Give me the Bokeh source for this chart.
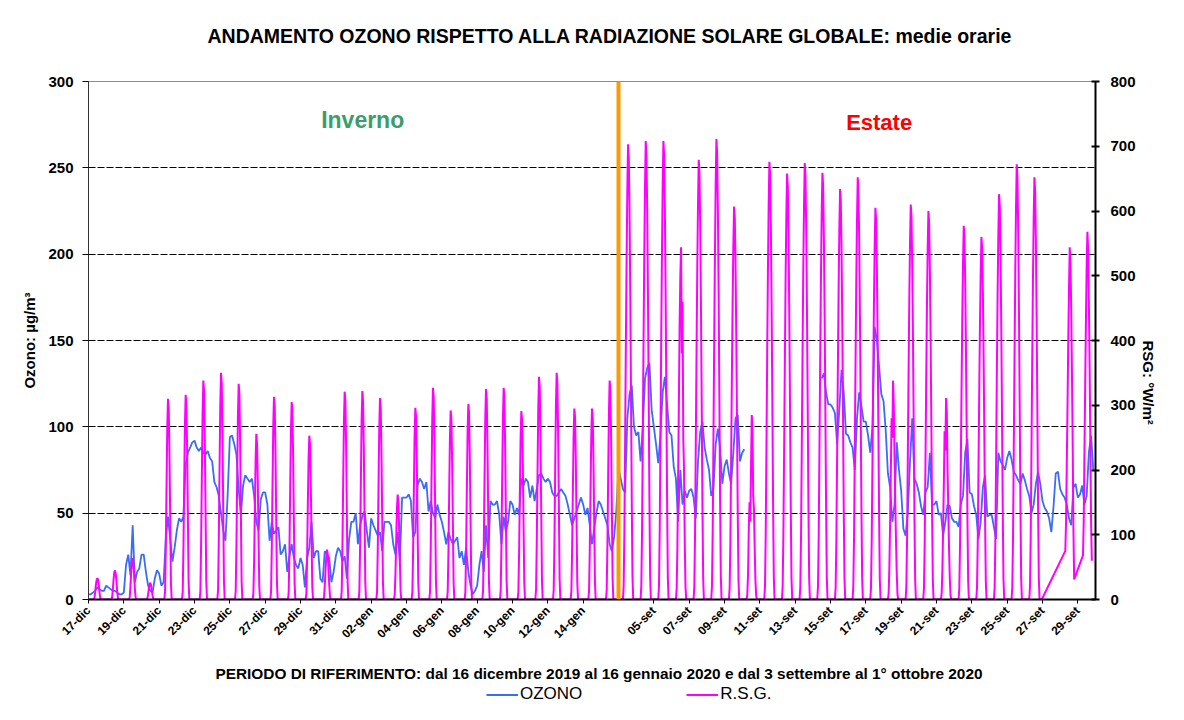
import math
import numpy as np
import pandas as pd
from bokeh.plotting import figure
from bokeh.layouts import column
from bokeh.models import (Range1d, LinearAxis, FixedTicker, Label, Span, Legend,
                          LegendItem, Title)
from bokeh.embed import file_html
from bokeh.resources import INLINE

FONT = "Liberation Sans"

TITLE = "ANDAMENTO OZONO RISPETTO ALLA RADIAZIONE SOLARE GLOBALE: medie orarie"
SUBTITLE = ("PERIODO DI RIFERIMENTO: dal 16 dicembre 2019 al 16 gennaio 2020 "
            "e dal 3 settembre al 1° ottobre 2020")
Y_LEFT_TITLE = "Ozono: µg/m³"
Y_RIGHT_TITLE = "RSG: °W/m²"
SERIES = ["OZONO", "R.S.G."]
SEASONS = ["Inverno", "Estate"]

WINTER_START = "2019-12-17"
WINTER_DAYS = 30
SUMMER_START = "2020-09-03"
SUMMER_DAYS = 27
MONTHS = {12: "dic", 1: "gen", 9: "set"}

TICK_LABELS = ["17-dic", "19-dic", "21-dic", "23-dic", "25-dic", "27-dic", "29-dic",
               "31-dic", "02-gen", "04-gen", "06-gen", "08-gen", "10-gen", "12-gen",
               "14-gen", "05-set", "07-set", "09-set", "11-set", "13-set", "15-set",
               "17-set", "19-set", "21-set", "23-set", "25-set", "27-set", "29-set"]

LEFT_TICKS = [0, 50, 100, 150, 200, 250, 300]
RIGHT_TICKS = [0, 100, 200, 300, 400, 500, 600, 700, 800]

# Ozone (ug/m3), one reading every 3 hours (00,03,...,21 h)
OZONE_STEP_H = 3
OZONE_WINTER = [
    3, 3, 4, 5, 7, 6, 5, 5,
    8, 7, 6, 5, 5, 4, 3, 3,
    4, 20, 26, 14, 43, 10, 16, 18,
    26, 26, 16, 8, 5, 4, 12, 17,
    15, 8, 10, 35, 48, 35, 22, 30,
    40, 47, 45, 48, 78, 85, 88, 91,
    92, 88, 86, 88, 85, 84, 86, 82,
    80, 68, 65, 60, 50, 40, 34, 60,
    94, 95, 90, 84, 64, 49, 66, 72,
    70, 68, 70, 60, 45, 40, 58, 62,
    62, 55, 34, 45, 38, 40, 42, 26,
    28, 32, 16, 25, 32, 24, 20, 18,
    24, 20, 7, 24, 30, 45, 24, 28,
    28, 12, 10, 28, 26, 24, 10, 16,
    25, 30, 28, 22, 25, 12, 35, 45,
    45, 50, 32, 43, 48, 51, 40, 30,
    47, 43, 40, 37, 39, 28, 45, 45,
    45, 43, 32, 26, 39, 22, 59, 59,
    59, 61, 57, 36, 39, 66, 70, 68,
    64, 68, 51, 57, 50, 47, 55, 49,
    45, 39, 32, 39, 35, 32, 34, 36,
    24, 28, 20, 30, 16, 8, 3, 5,
    8, 20, 28, 16, 43, 24, 57, 55,
    55, 57, 49, 32, 48, 39, 45, 57,
    55, 49, 53, 49, 70, 66, 70, 68,
    59, 66, 57, 64, 72, 73, 70, 68,
    70, 68, 62, 60, 60, 62, 64, 62,
    60, 55, 49, 43, 47, 51, 55, 59,
    55, 49, 53, 43, 32, 41, 50, 57,
    55, 51, 47, 43, 32, 28, 36, 51,
]
OZONE_SUMMER = [
    76, 70, 64, 62, 105, 119, 124, 100,
    95, 97, 80, 100, 128, 134, 137, 110,
    100, 90, 79, 95, 120, 129, 113, 97,
    95, 77, 70, 45, 75, 55, 63, 59,
    63, 64, 59, 47, 80, 97, 103, 88,
    81, 75, 60, 64, 90, 99, 88, 67,
    77, 81, 73, 67, 85, 105, 107, 80,
    85, 87, None, None, None, None, None, None,
    None, None, None, None, None, None, None, None,
    None, None, None, None, None, None, None, None,
    None, None, None, None, None, None, None, None,
    None, None, None, None, 128, 131, 120, 113,
    113, 111, 108, 90, 110, 133, 120, 96,
    95, 91, 88, 75, 105, 120, 112, 103,
    103, 95, 85, 100, 158, 150, 135, 119,
    115, 98, 73, 65, 45, 55, 91, 75,
    63, 41, 37, 50, 80, 105, 70, 67,
    62, 54, 49, 62, 65, 85, 55, 55,
    57, 49, 50, 37, 45, 55, 54, 47,
    45, 45, 42, 55, 60, 85, 93, 62,
    61, 54, 49, 35, 45, 65, 72, 48,
    49, 49, 42, 35, 85, 80, 78, 75,
    82, 86, 81, 74, 72, 69, 67, 73,
    69, 64, 60, 50, 55, 67, 74, 67,
    57, 53, 51, 47, 39, 54, 73, 74,
    64, 61, 59, 55, 47, 43, 65, 67,
    59, 61, 66, 55, 60, 85, 95, 75,
]

# Global solar radiation (W/m2): daylight hours only, night hours are 0
RSG_WINTER_HOURS = list(range(8, 17))
RSG_WINTER = [
    2, 10, 22, 30, 33, 31, 22, 10, 2,
    3, 14, 30, 42, 45, 40, 28, 12, 2,
    4, 20, 42, 60, 64, 55, 38, 16, 3,
    2, 8, 17, 24, 26, 22, 15, 6, 1,
    12, 80, 175, 265, 310, 295, 225, 125, 25,
    12, 82, 180, 270, 316, 300, 230, 128, 26,
    13, 88, 192, 288, 338, 322, 246, 136, 28,
    14, 90, 198, 298, 350, 334, 255, 140, 29,
    13, 86, 188, 284, 333, 318, 242, 134, 27,
    10, 60, 140, 215, 256, 240, 180, 95, 20,
    12, 80, 178, 268, 313, 298, 228, 126, 26,
    12, 78, 172, 260, 305, 292, 222, 122, 25,
    10, 65, 150, 220, 253, 238, 175, 98, 20,
    4, 22, 45, 66, 77, 70, 50, 24, 5,
    13, 84, 182, 275, 321, 306, 234, 130, 27,
    13, 84, 183, 276, 322, 306, 235, 130, 27,
    12, 80, 176, 266, 311, 296, 226, 126, 26,
    8, 40, 90, 140, 162, 150, 110, 60, 12,
    12, 76, 168, 253, 296, 282, 216, 120, 25,
    13, 85, 186, 280, 327, 311, 238, 132, 28,
    12, 75, 165, 250, 292, 278, 213, 118, 25,
    12, 78, 171, 258, 302, 288, 220, 122, 26,
    13, 84, 184, 278, 325, 310, 237, 132, 28,
    14, 85, 186, 280, 327, 312, 238, 133, 29,
    12, 75, 165, 249, 291, 277, 212, 118, 25,
    15, 90, 196, 295, 344, 328, 251, 140, 31,
    15, 92, 200, 300, 350, 334, 255, 143, 32,
    13, 77, 168, 252, 295, 281, 215, 120, 27,
    13, 77, 168, 252, 295, 281, 215, 120, 27,
    15, 88, 193, 290, 338, 322, 247, 138, 32,
]
RSG_SUMMER_HOURS = list(range(7, 20))
RSG_SUMMER = [
    20, 105, 245, 395, 525, 635, 703, 680, 600, 470, 315, 155, 35,
    21, 106, 248, 396, 530, 637, 708, 686, 602, 474, 318, 156, 35,
    21, 106, 248, 396, 530, 637, 708, 686, 602, 474, 318, 156, 35,
    16, 80, 190, 300, 420, 500, 544, 380, 460, 250, 200, 90, 20,
    20, 102, 238, 380, 509, 611, 679, 659, 577, 455, 306, 149, 34,
    21, 107, 249, 398, 533, 640, 711, 690, 604, 476, 320, 156, 36,
    18, 91, 212, 340, 455, 546, 607, 589, 516, 407, 273, 134, 30,
    8, 40, 110, 150, 120, 200, 285, 270, 160, 140, 80, 30, 6,
    20, 101, 237, 379, 507, 608, 676, 656, 575, 453, 304, 149, 34,
    20, 99, 230, 368, 494, 592, 658, 638, 559, 441, 296, 145, 33,
    20, 101, 236, 377, 505, 607, 674, 654, 573, 452, 303, 148, 34,
    20, 99, 231, 369, 494, 593, 659, 639, 560, 442, 297, 145, 33,
    19, 95, 222, 355, 476, 571, 634, 615, 539, 425, 285, 139, 32,
    20, 98, 228, 365, 489, 587, 652, 632, 554, 437, 293, 143, 33,
    18, 91, 212, 339, 454, 545, 605, 587, 514, 405, 272, 133, 30,
    10, 50, 120, 200, 280, 250, 338, 300, 220, 150, 90, 40, 8,
    18, 92, 214, 342, 458, 549, 610, 592, 519, 409, 275, 134, 31,
    18, 90, 210, 336, 450, 540, 600, 582, 510, 402, 270, 132, 30,
    9, 45, 110, 180, 260, 230, 311, 290, 200, 140, 80, 35, 7,
    17, 87, 202, 323, 433, 519, 577, 560, 490, 387, 260, 127, 29,
    17, 84, 196, 314, 420, 504, 560, 543, 476, 375, 252, 123, 28,
    19, 94, 219, 351, 470, 563, 626, 607, 532, 419, 282, 138, 31,
    20, 101, 235, 376, 504, 605, 672, 652, 571, 450, 302, 148, 34,
    20, 98, 228, 365, 489, 587, 652, 632, 554, 437, 293, 143, 33,
    None, None, None, None, None, None, None, None, None, None, None, None, None,
    75, 120, 210, 300, 400, 480, 544, 520, 450, 350, 240, 110, 31,
    68, 120, 230, 330, 430, 515, 568, 540, 460, 360, 240, 120, 60,
]
# from this summer day on, the night-time radiation values were not recorded
RSG_SUMMER_NIGHTS_MISSING_FROM = 24

# ---------------------------------------------------------------- series build
N_WIN = WINTER_DAYS * 24
N_SUM = SUMMER_DAYS * 24
N_HOURS = N_WIN + N_SUM

dates = list(pd.date_range(WINTER_START, periods=WINTER_DAYS, freq="D")) + \
        list(pd.date_range(SUMMER_START, periods=SUMMER_DAYS, freq="D"))
date_names = [f"{d.day:02d}-{MONTHS[d.month]}" for d in dates]
tick_pos = [date_names.index(lbl) * 24 for lbl in TICK_LABELS]


def ozone_xy(values, offset):
    x = offset + np.arange(len(values)) * OZONE_STEP_H
    y = np.array([np.nan if v is None else v for v in values], dtype=float)
    return x, y


def rsg_xy(values, hours, n_days, offset, nights_missing_from=None):
    """hourly points; missing readings are skipped so the line joins across them"""
    per_day = len(hours)
    xs, ys = [], []
    for d in range(n_days):
        day_vals = values[d * per_day:(d + 1) * per_day]
        for h in range(24):
            if h in hours:
                v = day_vals[h - hours[0]]
            elif nights_missing_from is not None and d >= nights_missing_from:
                v = None
            else:
                v = 0
            if v is None:
                continue
            xs.append(offset + d * 24 + h)
            ys.append(v)
    return xs, ys


ozx_w, ozy_w = ozone_xy(OZONE_WINTER, 0)
ozx_s, ozy_s = ozone_xy(OZONE_SUMMER, N_WIN)
oz_x = np.concatenate([ozx_w, ozx_s])
oz_y = np.concatenate([ozy_w, ozy_s])

rx_w, ry_w = rsg_xy(RSG_WINTER, RSG_WINTER_HOURS, WINTER_DAYS, 0)
rx_s, ry_s = rsg_xy(RSG_SUMMER, RSG_SUMMER_HOURS, SUMMER_DAYS, N_WIN,
                    RSG_SUMMER_NIGHTS_MISSING_FROM)
rsg_x = rx_w + rx_s
rsg_y = ry_w + ry_s

# ---------------------------------------------------------------- layout
W = 1168
H_MAIN, H_FOOT = 648, 56
FRAME_L, FRAME_T = 88, 81
FRAME_W, FRAME_H = 1010, 520
FRAME_R = W - FRAME_L - FRAME_W
FRAME_B = H_MAIN - FRAME_T - FRAME_H
Y_MAX = LEFT_TICKS[-1]


def at(px, py):
    """picture pixel -> data coordinates of the main chart"""
    return (px - FRAME_L) / FRAME_W * N_HOURS, (FRAME_T + FRAME_H - py) / FRAME_H * Y_MAX


p = figure(width=W, height=H_MAIN, x_range=Range1d(0, N_HOURS), y_range=Range1d(0, Y_MAX),
           output_backend="svg", toolbar_location=None,
           min_border_left=FRAME_L, min_border_right=FRAME_R,
           min_border_top=FRAME_T, min_border_bottom=FRAME_B)
p.extra_y_ranges = {"rsg": Range1d(0, RIGHT_TICKS[-1])}
p.background_fill_color = "white"
p.border_fill_color = "white"
p.outline_line_color = "#8c8c8c"
p.outline_line_width = 1

# left axis
p.yaxis.ticker = FixedTicker(ticks=LEFT_TICKS)
p.yaxis.axis_line_color = "#333333"
p.yaxis.major_tick_out = 6
p.yaxis.major_tick_in = 0
p.yaxis.minor_tick_line_color = None
p.yaxis.major_label_standoff = 9
p.yaxis.major_label_text_font = FONT
p.yaxis.major_label_text_font_style = "bold"
p.yaxis.major_label_text_font_size = "15px"
p.yaxis.major_label_text_color = "black"
p.yaxis.axis_label = Y_LEFT_TITLE
p.yaxis.axis_label_standoff = 7
p.yaxis.axis_label_text_font = FONT
p.yaxis.axis_label_text_font_style = "bold"
p.yaxis.axis_label_text_font_size = "15px"
p.yaxis.axis_label_text_color = "black"

# right axis
ra = LinearAxis(y_range_name="rsg", ticker=FixedTicker(ticks=RIGHT_TICKS))
ra.axis_line_color = "black"
ra.axis_line_width = 2
ra.major_tick_in = 4
ra.major_tick_out = 4
ra.major_tick_line_width = 2
ra.minor_tick_line_color = None
ra.major_label_standoff = 11
ra.major_label_text_font = FONT
ra.major_label_text_font_style = "bold"
ra.major_label_text_font_size = "15px"
ra.major_label_text_color = "black"
ra.axis_label = Y_RIGHT_TITLE
ra.axis_label_standoff = 10
ra.axis_label_text_font = FONT
ra.axis_label_text_font_style = "bold"
ra.axis_label_text_font_size = "15px"
ra.axis_label_text_color = "black"
try:
    ra.axis_label_orientation = -math.pi / 2
except AttributeError:
    pass
p.add_layout(ra, "right")

# bottom axis
p.xaxis.ticker = FixedTicker(ticks=tick_pos)
p.xaxis.major_label_overrides = {t: lbl for t, lbl in zip(tick_pos, TICK_LABELS)}
p.xaxis.major_label_orientation = math.pi / 4
p.xaxis.axis_line_color = "black"
p.xaxis.axis_line_width = 2
p.xaxis.major_tick_out = 4
p.xaxis.major_tick_in = 0
p.xaxis.minor_tick_line_color = None
p.xaxis.major_label_standoff = 5
p.xaxis.major_label_text_font = FONT
p.xaxis.major_label_text_font_style = "bold"
p.xaxis.major_label_text_font_size = "12px"
p.xaxis.major_label_text_color = "black"

p.xgrid.visible = False
p.ygrid.ticker = FixedTicker(ticks=LEFT_TICKS[1:-1])
p.ygrid.grid_line_color = "black"
p.ygrid.grid_line_width = 1
p.ygrid.grid_line_dash = "7 2"

OZ_STYLE = dict(line_color="#3a6cf4", line_width=1.8)
RSG_STYLE = dict(line_color="#ff00ff", line_width=2)
p.line(oz_x, oz_y, **OZ_STYLE)
p.line(rsg_x, rsg_y, y_range_name="rsg", **RSG_STYLE)

p.add_layout(Span(location=N_WIN, dimension="height", line_color="#ff9900", line_width=4))

# season labels inside the plot area
ix, iy = at(363, 120)
p.add_layout(Label(x=ix, y=iy, text=SEASONS[0], text_align="center", text_baseline="middle",
                   text_font=FONT, text_font_style="bold", text_font_size="23px",
                   text_color="#3a9e6a"))
ex, ey = at(881, 122)
p.add_layout(Label(x=ex, y=ey, text=SEASONS[1], text_align="center", text_baseline="middle",
                   text_font=FONT, text_font_style="bold", text_font_size="22px",
                   text_color="#ff0000"))

# title (above) with a spacer between it and the plot area
p.title.text = ""
p.add_layout(Title(text=" ", text_font_size="1px", standoff=32), "above")
p.add_layout(Title(text=TITLE, align="left", offset=119, standoff=0,
                   text_font=FONT, text_font_style="bold", text_font_size="19.5px",
                   text_color="black"), "above")

# ---------------------------------------------------------------- footer strip
# (its frame is aligned with the chart frame; data units = picture pixels)
foot = figure(width=W, height=H_FOOT,
              x_range=Range1d(FRAME_L, FRAME_L + FRAME_W),
              y_range=Range1d(H_MAIN + H_FOOT, H_MAIN),
              output_backend="svg", toolbar_location=None, min_border=0,
              x_axis_type=None, y_axis_type=None)
foot.grid.visible = False
foot.outline_line_color = None
foot.background_fill_color = "white"
foot.border_fill_color = "white"
foot.title.text = ""
foot.add_layout(Label(x=600, y=673, text=SUBTITLE, text_align="center",
                      text_baseline="middle", text_font=FONT, text_font_style="bold",
                      text_font_size="15.4px", text_color="black"))
# legend keys (no visible data: they only carry the series styles)
k_oz = foot.line([np.nan, np.nan], [np.nan, np.nan], **OZ_STYLE)
k_rsg = foot.line([np.nan, np.nan], [np.nan, np.nan], **RSG_STYLE)
legend = Legend(items=[LegendItem(label=SERIES[0], renderers=[k_oz]),
                       LegendItem(label=SERIES[1], renderers=[k_rsg])],
                orientation="horizontal", location=(486 - FRAME_L, 0),
                border_line_color=None, background_fill_alpha=0,
                label_text_font=FONT, label_text_font_size="17px",
                label_text_color="black", glyph_width=32, glyph_height=17,
                label_standoff=2, spacing=104, padding=0, margin=0)
foot.add_layout(legend)

layout = column(p, foot, spacing=0)
open("out.html", "w").write(file_html(layout, INLINE))
